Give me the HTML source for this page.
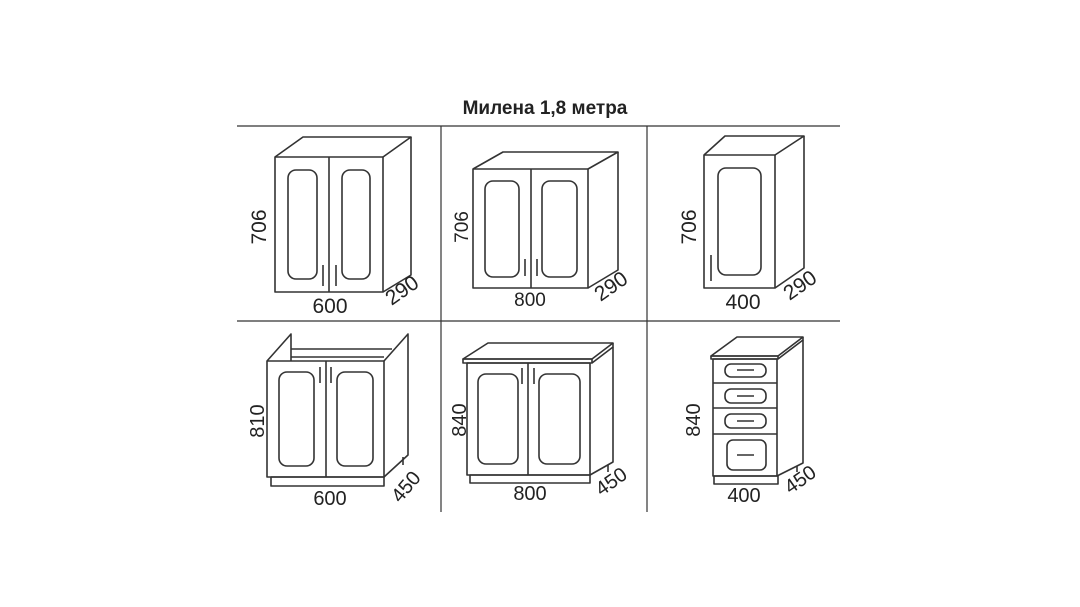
<!DOCTYPE html>
<html><head><meta charset="utf-8"><style>
html,body{margin:0;padding:0;background:#fff;}
svg{display:block;}
text{font-family:"Liberation Sans",sans-serif;fill:#222;}
</style></head><body>
<svg width="1080" height="607" viewBox="0 0 1080 607" xmlns="http://www.w3.org/2000/svg">
<text x="545" y="114" font-size="19" font-weight="bold" text-anchor="middle">Милена 1,8 метра</text>
<g stroke="#333" stroke-width="1.2" fill="none">
<line x1="237" y1="126" x2="840" y2="126"/>
<line x1="237" y1="321" x2="840" y2="321"/>
<line x1="441" y1="126" x2="441" y2="512"/>
<line x1="647" y1="126" x2="647" y2="512"/>
</g>
<g stroke="#333" stroke-width="1.6" fill="none" stroke-linejoin="round">
<rect x="275" y="157" width="108" height="135"/>
<polyline points="275,157 303,137 411,137 383,157"/>
<polyline points="411,137 411,275 383,292"/>
<line x1="329" y1="157" x2="329" y2="292"/>
<rect x="288" y="170" width="29" height="109" rx="8"/>
<rect x="342" y="170" width="28" height="109" rx="8"/>
<line x1="323" y1="265" x2="323" y2="286"/><line x1="336" y1="265" x2="336" y2="286"/>
<rect x="473" y="169" width="115" height="119"/>
<polyline points="473,169 503,152 618,152 588,169"/>
<polyline points="618,152 618,270 588,288"/>
<line x1="531" y1="169" x2="531" y2="288"/>
<rect x="485" y="181" width="34" height="96" rx="8"/>
<rect x="542" y="181" width="35" height="96" rx="8"/>
<line x1="525" y1="259" x2="525" y2="276"/><line x1="537" y1="259" x2="537" y2="276"/>
<rect x="704" y="155" width="71" height="133"/>
<polyline points="704,155 725,136 804,136 775,155"/>
<polyline points="804,136 804,268 775,288"/>
<rect x="718" y="168" width="43" height="107" rx="8"/>
<line x1="711" y1="255" x2="711" y2="281"/>
<rect x="267" y="361" width="117" height="116"/>
<rect x="271" y="477" width="113" height="9"/>
<polyline points="267,361 291,334 291,361"/>
<polyline points="384,361 408,334 408,455 384,477"/>
<line x1="291" y1="349" x2="392" y2="349"/>
<line x1="291" y1="357" x2="384" y2="357"/>
<line x1="326" y1="361" x2="326" y2="477"/>
<rect x="279" y="372" width="35" height="94" rx="8"/>
<rect x="337" y="372" width="36" height="94" rx="8"/>
<line x1="320" y1="367" x2="320" y2="383"/><line x1="331" y1="367" x2="331" y2="383"/>
<line x1="403" y1="457" x2="403" y2="465"/>
<polygon points="463,359 488,343 613,343 592,359"/>
<rect x="463" y="359" width="129" height="4"/>
<polyline points="592,363 613,347 613,343"/>
<rect x="467" y="363" width="123" height="112"/>
<rect x="470" y="475" width="120" height="8"/>
<polyline points="613,347 613,462 590,475"/>
<line x1="528" y1="363" x2="528" y2="475"/>
<rect x="478" y="374" width="40" height="90" rx="8"/>
<rect x="539" y="374" width="41" height="90" rx="8"/>
<line x1="522" y1="368" x2="522" y2="384"/><line x1="534" y1="368" x2="534" y2="384"/>
<line x1="608" y1="465" x2="608" y2="472"/>
<polygon points="711,356 737,337 803,337 778,356"/>
<rect x="711" y="356" width="67" height="3"/>
<polyline points="778,359 803,340 803,337"/>
<rect x="713" y="359" width="64" height="117"/>
<rect x="714" y="476" width="64" height="8"/>
<polyline points="803,340 803,463 777,476"/>
<line x1="713" y1="383" x2="777" y2="383"/>
<line x1="713" y1="408" x2="777" y2="408"/>
<line x1="713" y1="434" x2="777" y2="434"/>
<rect x="725" y="364" width="41" height="13" rx="6"/>
<rect x="725" y="389" width="41" height="14" rx="6"/>
<rect x="725" y="414" width="41" height="14" rx="6"/>
<rect x="727" y="440" width="39" height="30" rx="6"/>
<line x1="737" y1="370" x2="754" y2="370"/>
<line x1="737" y1="396" x2="754" y2="396"/>
<line x1="737" y1="421" x2="754" y2="421"/>
<line x1="737" y1="455" x2="754" y2="455"/>
<line x1="797" y1="466" x2="797" y2="472"/>
</g>
<g font-size="21">
<text transform="translate(266,227) rotate(-90)" text-anchor="middle">706</text>
<text x="330" y="313" text-anchor="middle">600</text>
<text transform="translate(406,296) rotate(-35)" text-anchor="middle">290</text>
<text transform="translate(468,227) rotate(-90)" font-size="19" text-anchor="middle">706</text>
<text x="530" y="306" text-anchor="middle" font-size="19">800</text>
<text transform="translate(615,292) rotate(-35)" text-anchor="middle">290</text>
<text transform="translate(696,227) rotate(-90)" text-anchor="middle">706</text>
<text x="743" y="309" text-anchor="middle">400</text>
<text transform="translate(804,291) rotate(-35)" text-anchor="middle">290</text>
<text transform="translate(264,421) rotate(-90)" font-size="20" text-anchor="middle">810</text>
<text x="330" y="505" text-anchor="middle" font-size="20">600</text>
<text transform="translate(411,491) rotate(-50)" font-size="20" text-anchor="middle">450</text>
<text transform="translate(466,420) rotate(-90)" font-size="20" text-anchor="middle">840</text>
<text x="530" y="500" text-anchor="middle" font-size="20">800</text>
<text transform="translate(615,487) rotate(-35)" font-size="20" text-anchor="middle">450</text>
<text transform="translate(700,420) rotate(-90)" font-size="20" text-anchor="middle">840</text>
<text x="744" y="502" text-anchor="middle" font-size="20">400</text>
<text transform="translate(804,485) rotate(-35)" font-size="20" text-anchor="middle">450</text>
</g>
</svg>
</body></html>
